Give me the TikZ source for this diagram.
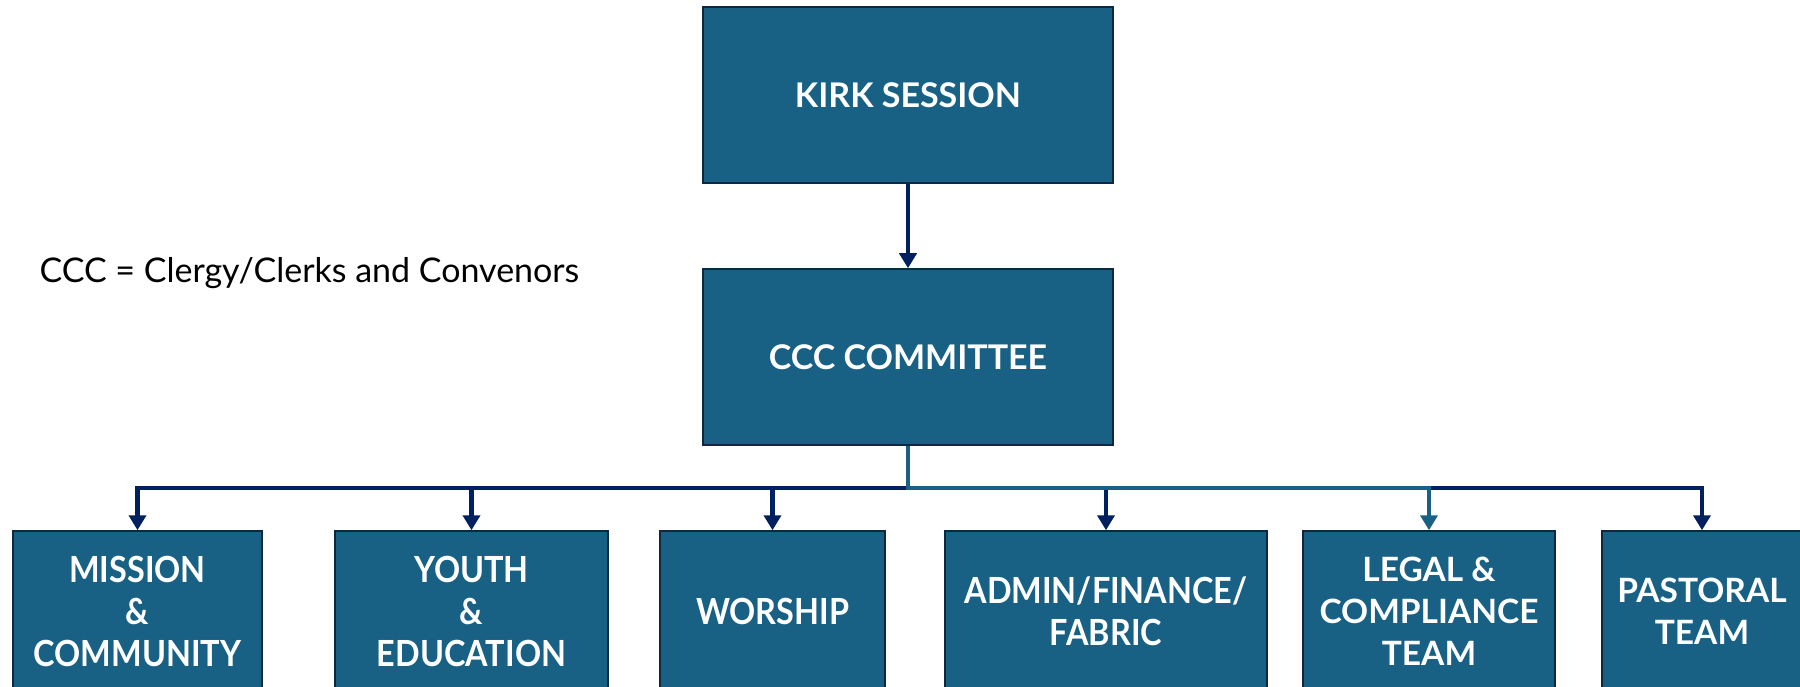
\documentclass[tikz,border=0pt]{standalone}
\usepackage{fontspec}
\setmainfont{Lato}
\newfontfamily\narrowfont[FakeStretch=0.9]{Lato}
\usetikzlibrary{arrows.meta}

\definecolor{boxfill}{HTML}{186184}
\definecolor{boxline}{HTML}{0E2841}
\definecolor{navyline}{HTML}{002060}
\definecolor{tealline}{HTML}{186184}

\tikzset{
	unitbox/.style={draw=boxline, line width=1.5pt, fill=boxfill, text=white, align=center, inner sep=0pt,
		font=\bfseries\fontsize{33.5}{42}\selectfont},
	topbox/.style={unitbox, minimum width=410pt, minimum height=176pt, font=\bfseries\fontsize{34}{42}\selectfont},
	subbox/.style={unitbox, minimum height=160pt},
	narrowbox/.style={subbox, font=\narrowfont\bfseries\fontsize{36}{42}\selectfont},
	link/.style={line width=4.5pt, color=navyline, -{Triangle[width=17pt,length=15pt]}},
	linkteal/.style={link, color=tealline}
}

\begin{document}
\begin{tikzpicture}[x=1pt, y=-1pt]
	%%%%% START %%%%%
	
	\path[use as bounding box, clip] (0, 0) rectangle (1800, 687);
	
	\node[topbox] (kirk) at (908, 95) {KIRK SESSION};
	\node[topbox] (ccc) at (908, 357) {CCC COMMITTEE};
	
	\node[anchor=west, font=\fontsize{34}{40}\selectfont] (key) at (36, 273) {CCC = Clergy/Clerks and Convenors};
	
	\node[narrowbox, minimum width=249pt] (mission) at (137.5, 611) {MISSION\\\&\\COMMUNITY};
	\node[narrowbox, minimum width=273pt] (youth) at (471.5, 611) {YOUTH\\\&\\EDUCATION};
	\node[narrowbox, minimum width=225pt] (worship) at (772.5, 611) {WORSHIP};
	\node[narrowbox, minimum width=322pt] (admin) at (1106, 611) {ADMIN/FINANCE/\\FABRIC};
	\node[subbox, minimum width=252pt] (legal) at (1429, 611) {LEGAL \&\\COMPLIANCE\\TEAM};
	\node[subbox, minimum width=200pt] (pastoral) at (1702, 611) {PASTORAL\\TEAM};
	
	\coordinate (bus) at (0, 488);
	
	\draw[link] (kirk) -- (ccc);
	
	\foreach \unit in {mission, youth, worship, admin, pastoral}
		\draw[link] (ccc.south) -- (ccc.south |- bus) -| (\unit.north);
	\draw[linkteal] (ccc.south) -- (ccc.south |- bus) -| (legal.north);
	
	%%%%% END %%%%%
\end{tikzpicture}
\end{document}
